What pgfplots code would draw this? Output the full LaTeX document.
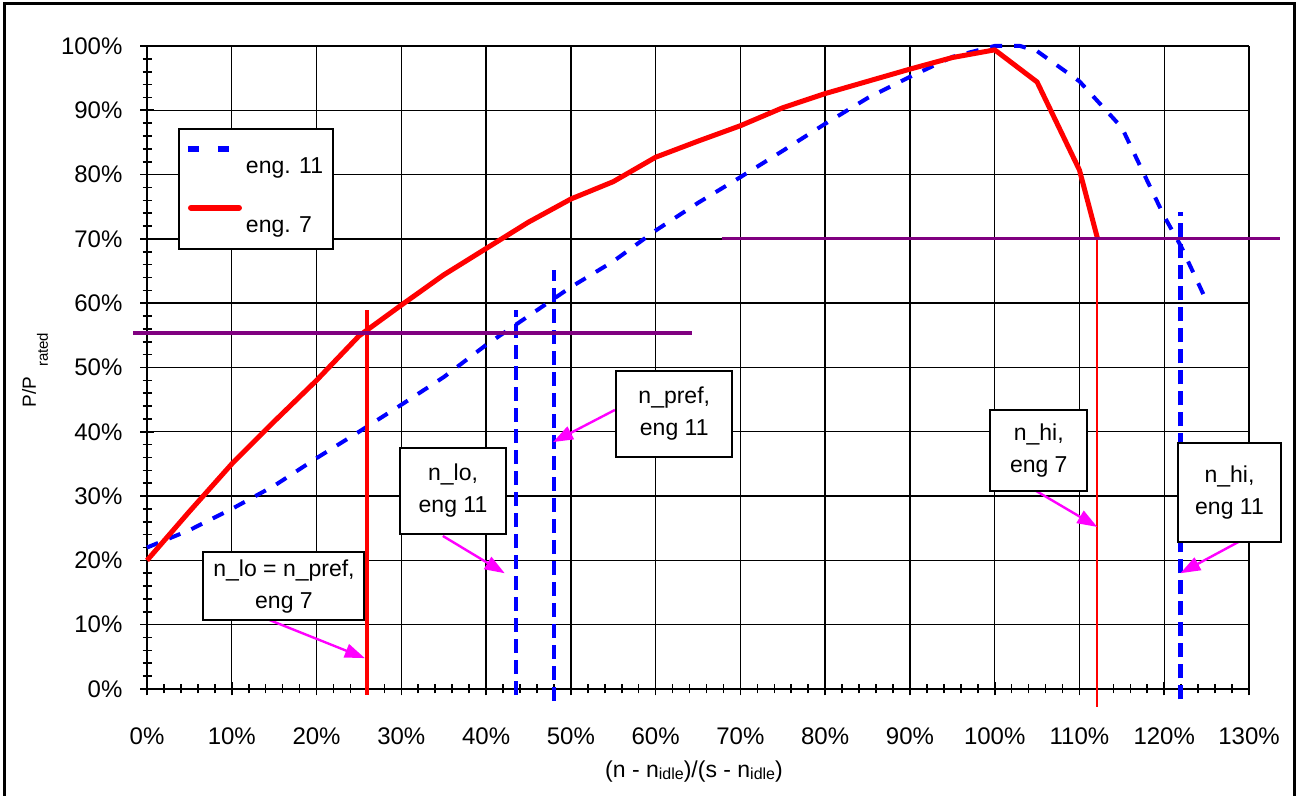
\documentclass[border=0pt]{standalone}
\usepackage{fontspec}
\setmainfont{Liberation Sans}
\usepackage{pgfplots}
\pgfplotsset{compat=1.18}
\usetikzlibrary{arrows.meta}
\definecolor{purp}{RGB}{128,0,128}
\definecolor{mag}{RGB}{255,0,255}
\definecolor{bl}{RGB}{0,0,255}
\definecolor{rd}{RGB}{255,0,0}
\newcommand\fa{\fontsize{11.5}{16}\selectfont}
\newcommand\ft{\fontsize{12}{14}\selectfont}
\pgfplotsset{
  blleg/.style={legend image code/.code={\draw[##1] (0pt,5.3pt) -- (20.5pt,5.3pt);}},
  rdleg/.style={legend image code/.code={\draw[##1] (1.5pt,5.3pt) -- (25.5pt,5.3pt);}},
}
\begin{document}
\begin{tikzpicture}
\useasboundingbox (-73.5pt,-53.5pt) rectangle (576.5pt,344.5pt);
\begin{axis}[
 at={(0pt,0pt)}, anchor=south west,
 width=551pt, height=321.5pt, scale only axis,
 xmin=0, xmax=130, ymin=0, ymax=100,
 axis lines=left, axis line style={-, line width=1pt, black},
 xtick={0,10,...,130}, ytick={0,10,...,100},
 xticklabels={0\%,10\%,20\%,30\%,40\%,50\%,60\%,70\%,80\%,90\%,100\%,110\%,120\%,130\%},
 yticklabels={0\%,10\%,20\%,30\%,40\%,50\%,60\%,70\%,80\%,90\%,100\%},
 minor x tick num=4, minor y tick num=4,
 grid=major, major grid style={black, line width=0.7pt},
 tick align=center, major tick length=6.5pt, minor tick length=4.5pt,
 tick style={black, line width=0.8pt},
 xticklabel style={font=\ft, yshift=-12.5pt},
 yticklabel style={font=\ft, xshift=-5.5pt},
 clip=false,
 legend style={at={(axis description cs:0.0281,0.8725)}, anchor=north west,
   draw=black, line width=1pt, fill=white, font=\fa,
   inner xsep=3pt, inner ysep=5.25pt, row sep=9.5pt,
   nodes={text height=15pt, text depth=1pt, inner sep=2pt}},
 legend cell align=left,
]
% eng 11 (blue dashed)
\addplot[bl, line width=2pt, dash pattern=on 6pt off 6pt, forget plot] coordinates {
(0,22) (5,24.7) (10,28) (15,31.6) (20,35.9) (25,40) (30,44.2) (35,48.5) (40,53.5)
(45,58) (50,62.5) (55,66.5) (60,71.3) (65,75.6) (70,79.6) (75,83.7) (80,87.9)
(85,91.9) (90,95.2) (95,98.3) (100,100) (103,100) (105,99.2) (110,94.5)
(115,87.3) (120,73.5) (122,68.8) (125,60.3)};
% eng 7 (red)
\addplot[rd, line width=2.5pt, line join=round, forget plot] coordinates {
(0,20) (5,27.6) (10,35) (15,41.6) (20,48) (25,54.9) (30,59.7) (35,64.4) (40,68.5)
(45,72.6) (50,76.2) (55,78.9) (60,82.7) (65,85.2) (70,87.6) (75,90.4) (80,92.6)
(85,94.5) (90,96.4) (95,98.2) (100,99.4) (105,94.4) (110,80.7) (112.1,70.2)};
% vertical markers
\addplot[rd, line width=2pt, forget plot] coordinates {(25.95,-0.9) (25.95,58.9)};
\addplot[bl, line width=2pt, dash pattern=on 7pt off 3.5pt, forget plot] coordinates {(43.5,-0.9) (43.5,58.9)};
\addplot[bl, line width=1.8pt, dash pattern=on 7pt off 3.5pt, forget plot] coordinates {(48.0,-1.8) (48.0,65.2)};
\addplot[rd, line width=1pt, forget plot] coordinates {(112.1,-2.8) (112.1,70.2)};
\addplot[bl, line width=2.2pt, dash pattern=on 7pt off 3.5pt, forget plot] coordinates {(121.9,-1.6) (121.9,74.2)};
% horizontal levels
\addplot[purp, line width=2pt, forget plot] coordinates {(-1.65,55.4) (64.3,55.4)};
\addplot[purp, line width=1.7pt, forget plot] coordinates {(67.8,70.1) (133.65,70.1)};
% legend
\addlegendimage{bl, line width=3pt, dash pattern=on 5.3pt off 9.7pt, blleg}
\addlegendentry{eng. 11}
\addlegendimage{rd, line width=3pt, line cap=round, rdleg}
\addlegendentry{eng. 7}
% annotations
\tikzset{abox/.style={draw=black, line width=1pt, fill=white, align=center, font=\fa, inner sep=2pt},
         aarr/.style={mag, line width=1.2pt, -{Triangle[length=10pt,width=7pt]}}}
\draw[aarr] (axis cs:14.5,10.7) -- (axis cs:25.7,4.8);
\draw[aarr] (axis cs:34.9,23.8) -- (axis cs:42.2,18.0);
\draw[aarr] (axis cs:55.2,43.4) -- (axis cs:47.9,38.4);
\draw[aarr] (axis cs:104.5,31.1) -- (axis cs:112.1,25.2);
\draw[aarr] (axis cs:128.8,22.9) -- (axis cs:121.9,18.0);
\node[abox, minimum width=80.5pt, minimum height=34pt] at (axis cs:16.16,16.0) {n\_lo = n\_pref,\\eng 7};
\node[abox, minimum width=53pt, minimum height=43pt] at (axis cs:36.1,30.8) {n\_lo,\\eng 11};
\node[abox, minimum width=58pt, minimum height=43pt] at (axis cs:62.2,42.8) {n\_pref,\\eng 11};
\node[abox, minimum width=48.5pt, minimum height=40.5pt] at (axis cs:105.2,37.1) {n\_hi,\\eng 7};
\node[abox, minimum width=51.5pt, minimum height=49.5pt] at (axis cs:127.7,30.6) {n\_hi,\\eng 11};
\end{axis}
% axis titles
\node[anchor=base, font=\fontsize{11.5}{14}\selectfont] at (273.5pt,-44.5pt)
  {(n - n\raisebox{-1pt}{\fontsize{8}{9}\selectfont idle})/(s - n\raisebox{-1pt}{\fontsize{8}{9}\selectfont idle})};
\node[rotate=90, anchor=base west, inner sep=0pt, font=\fontsize{9.5}{11}\selectfont] at (-55.5pt,140.5pt)
  {P/P\hspace{5pt}\raisebox{-6pt}{\fontsize{7.5}{8}\selectfont rated}};
% outer frame
\draw[line width=1.5pt] (-71pt,-60pt) -- (-71pt,342.5pt) -- (573.5pt,342.5pt) -- (573.5pt,-60pt);
\end{tikzpicture}
\end{document}
